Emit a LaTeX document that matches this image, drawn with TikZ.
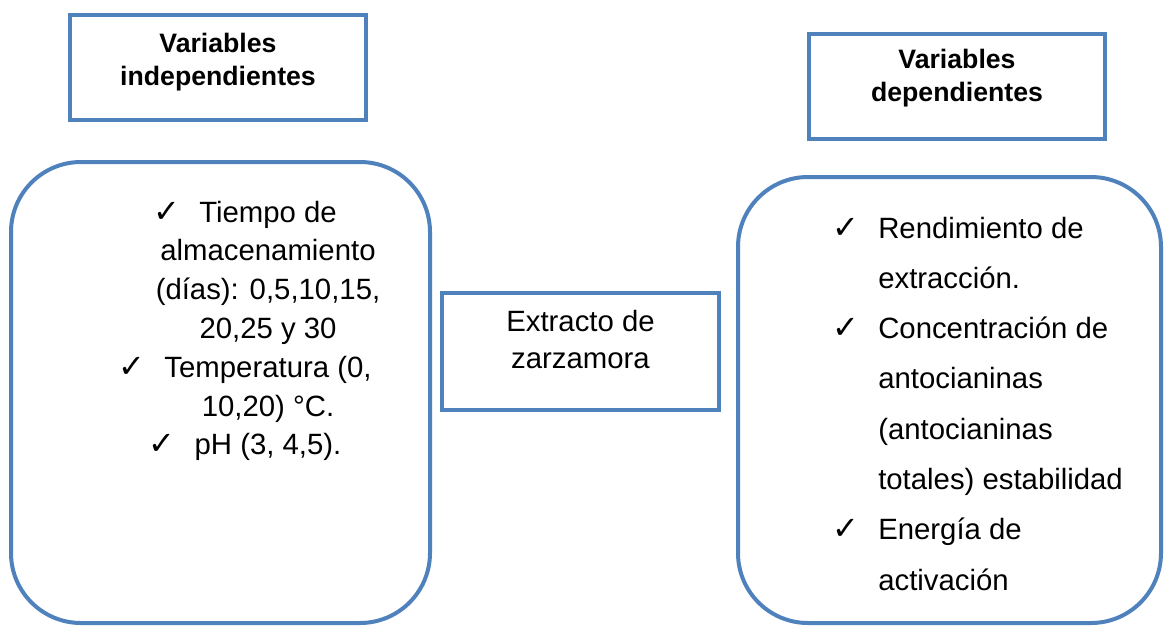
\documentclass[tikz,border=0pt]{standalone}
\usepackage{fontspec}
\setmainfont{Liberation Sans}
\newfontfamily\chkfont{DejaVu Sans}
\definecolor{boxblue}{RGB}{79,129,189}
\newcommand{\chk}{\llap{\makebox[34.5pt][l]{\smash{\chkfont\fontsize{24}{24}\selectfont ✓}}}}

\begin{document}
\begin{tikzpicture}[
			x = 0.75pt, y = -0.75pt,
			box/.style = {draw=boxblue, line width=3pt, inner sep=0pt},
			roundbox/.style = {box, rounded corners=52.5pt},
			title/.style = {font=\bfseries\fontsize{20}{24.75}\selectfont, align=center, inner sep=0pt},
			body/.style = {font=\fontsize{22}{29.1}\selectfont, inner sep=0pt}
			]

			\useasboundingbox (0,0) rectangle (1164,626);

			\node[box, minimum width=222pt, minimum height=78.75pt] (indep) at (218,67.5) {};
			\node[box, minimum width=222pt, minimum height=78.75pt] (dep) at (957,86.5) {};
			\node[box, minimum width=207.75pt, minimum height=87.75pt] (extracto) at (580.5,351.5) {};
			\node[roundbox, minimum width=314.25pt, minimum height=345.75pt] (indeplist) at (220.5,392.5) {};
			\node[roundbox, minimum width=317.25pt, minimum height=334.5pt] (deplist) at (949.5,400) {};

			\node[title, anchor=north] (indeptitle) at (218,32.6) {Variables\\independientes};
			\node[title, anchor=north] (deptitle) at (957,48.6) {Variables\\dependientes};
			\node[body, align=center, anchor=north, font=\fontsize{22}{27.75}\selectfont] (extractotxt) at (580.5,309.6) {Extracto de\\zarzamora};

			\node[body, align=center, anchor=north] (indepitems) at (268,200.6) {\chk Tiempo de\\almacenamiento\\(días): 0,5,10,15,\\20,25 y 30\\\chk Temperatura (0,\\10,20) °C.\\\chk pH (3, 4,5).};

			\node[body, align=left, anchor=north west, font=\fontsize{22}{37.7}\selectfont] (depitems) at (878,216.6) {\chk Rendimiento de\\extracción.\\\chk Concentración de\\antocianinas\\(antocianinas\\totales) estabilidad\\\chk Energía de\\activación};

		\end{tikzpicture}
\end{document}
